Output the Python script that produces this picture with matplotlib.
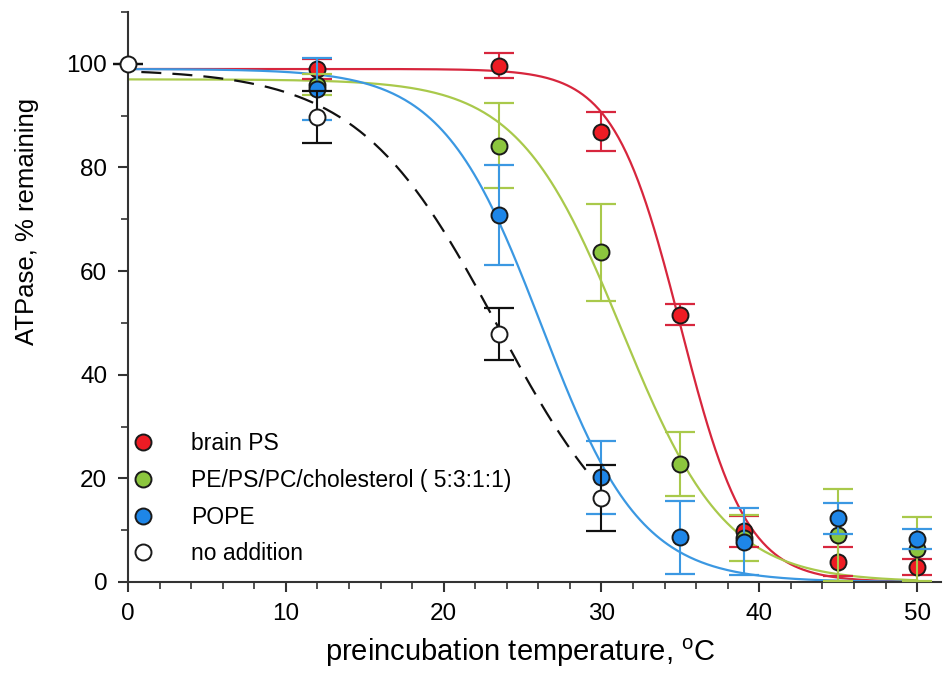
import numpy as np
import matplotlib
matplotlib.use("Agg")
import matplotlib.pyplot as plt
from matplotlib.ticker import MultipleLocator
from matplotlib.lines import Line2D

plt.rcParams['font.family'] = ['Liberation Sans', 'DejaVu Sans']

# ---- data ----
temps = [0, 12, 23.5, 30, 35, 39, 45, 50]

brain_ps = [None, 99.0, 99.6, 86.9, 51.6, 9.8, 3.9, 2.9]
brain_ps_err = [None, 2.0, 2.4, 3.8, 2.0, 3.0, 2.8, 1.5]

pe_mix = [None, 96.0, 84.2, 63.6, 22.7, 8.5, 9.0, 6.4]
pe_mix_err = [None, 2.0, 8.2, 9.3, 6.2, 4.5, 8.9, 6.2]

pope = [None, 95.2, 70.8, 20.2, 8.6, 7.8, 12.3, 8.3]
pope_err = [None, 6.0, 9.7, 7.0, 7.0, 6.5, 3.0, 2.0]

no_add_t = [0, 12, 23.5, 30]
no_add = [100.0, 89.8, 47.8, 16.2]
no_add_err = [0.0, 5.0, 5.0, 6.3]

# sigmoid fit parameters (a, x0, b): y = a / (1 + exp((x - x0)/b))
fit_brain_ps = (99.0, 35.0, 2.1)
fit_pe_mix = (97.0, 31.3, 3.3)
fit_pope = (99.0, 26.2, 3.15)
fit_no_add = (99.0, 23.4, 4.4)

labels = ["brain PS", "PE/PS/PC/cholesterol ( 5:3:1:1)", "POPE", "no addition"]

# ---- styles ----
c_red, c_red_line = "#ee1c24", "#d7263d"
c_grn, c_grn_line = "#8cc63e", "#a9c94b"
c_blu, c_blu_line = "#1e86e8", "#3b98e2"

def sig(p, x):
    a, x0, b = p
    return a / (1 + np.exp((x - x0) / b))

fig = plt.figure(figsize=(9.44, 6.93), dpi=100)
ax = fig.add_axes([0.1356, 0.1602, 0.861, 0.8225])

xs = np.linspace(0, 50, 400)
ax.plot(xs, sig(fit_brain_ps, xs), color=c_red_line, lw=1.6, zorder=2)
ax.plot(xs, sig(fit_pe_mix, xs), color=c_grn_line, lw=1.6, zorder=2)
ax.plot(xs, sig(fit_pope, xs), color=c_blu_line, lw=1.6, zorder=2)
xd = np.linspace(0, 29, 200)
ax.plot(xd, sig(fit_no_add, xd), color="#111111", lw=1.6, ls=(8, (9, 5)), zorder=2)

def series(t, v, e, fc, ec_err, z):
    t2 = [a for a, b in zip(t, v) if b is not None]
    v2 = [b for b in v if b is not None]
    e2 = [c for b, c in zip(v, e) if b is not None]
    ax.errorbar(t2, v2, yerr=e2, fmt='none', ecolor=ec_err, elinewidth=1.5,
                capsize=10.5, capthick=1.6, zorder=z, clip_on=False)
    ax.plot(t2, v2, 'o', ms=11.5, mfc=fc, mec="#1a1a1a", mew=1.4, zorder=z + 0.5,
            clip_on=False)

series(temps, brain_ps, brain_ps_err, c_red, c_red_line, 3)
series(temps, pe_mix, pe_mix_err, c_grn, c_grn_line, 4)
series(temps, pope, pope_err, c_blu, c_blu_line, 5)
series(no_add_t, no_add, no_add_err, "white", "#111111", 6)

ax.set_xlim(0, 51.5)
ax.set_ylim(0, 110)
ax.xaxis.set_major_locator(MultipleLocator(10))
ax.xaxis.set_minor_locator(MultipleLocator(2))
ax.yaxis.set_major_locator(MultipleLocator(20))
ax.yaxis.set_minor_locator(MultipleLocator(10))
for s in ["top", "right"]:
    ax.spines[s].set_visible(False)
for s in ["left", "bottom"]:
    ax.spines[s].set_linewidth(1.5)
    ax.spines[s].set_color("#333333")
ax.tick_params(which='major', direction='out', length=7, width=1.5, color="#333333",
               labelsize=17.5, pad=8)
ax.tick_params(which='minor', direction='out', length=5, width=1.2, color="#333333")
ax.set_yticks([0, 20, 40, 60, 80, 100])
ax.set_xlabel("preincubation temperature, $^\\mathregular{o}$C", fontsize=21)
ax.set_ylabel("ATPase, % remaining", fontsize=18.5)
ax.xaxis.set_label_coords(0.483, -0.095)
ax.yaxis.set_label_coords(-0.109, 0.632)

handles = [
    Line2D([], [], ls='none', marker='o', ms=11.5, mfc=c_red, mec="#1a1a1a", mew=1.4),
    Line2D([], [], ls='none', marker='o', ms=11.5, mfc=c_grn, mec="#1a1a1a", mew=1.4),
    Line2D([], [], ls='none', marker='o', ms=11.5, mfc=c_blu, mec="#1a1a1a", mew=1.4),
    Line2D([], [], ls='none', marker='o', ms=11.5, mfc="white", mec="#1a1a1a", mew=1.4),
]
ax.legend(handles, labels, loc='lower left', bbox_to_anchor=(-0.027, 0.005),
          frameon=False, fontsize=16.5, handletextpad=1.1, labelspacing=0.6,
          borderaxespad=0.2)

fig.savefig("out.png", dpi=100)
